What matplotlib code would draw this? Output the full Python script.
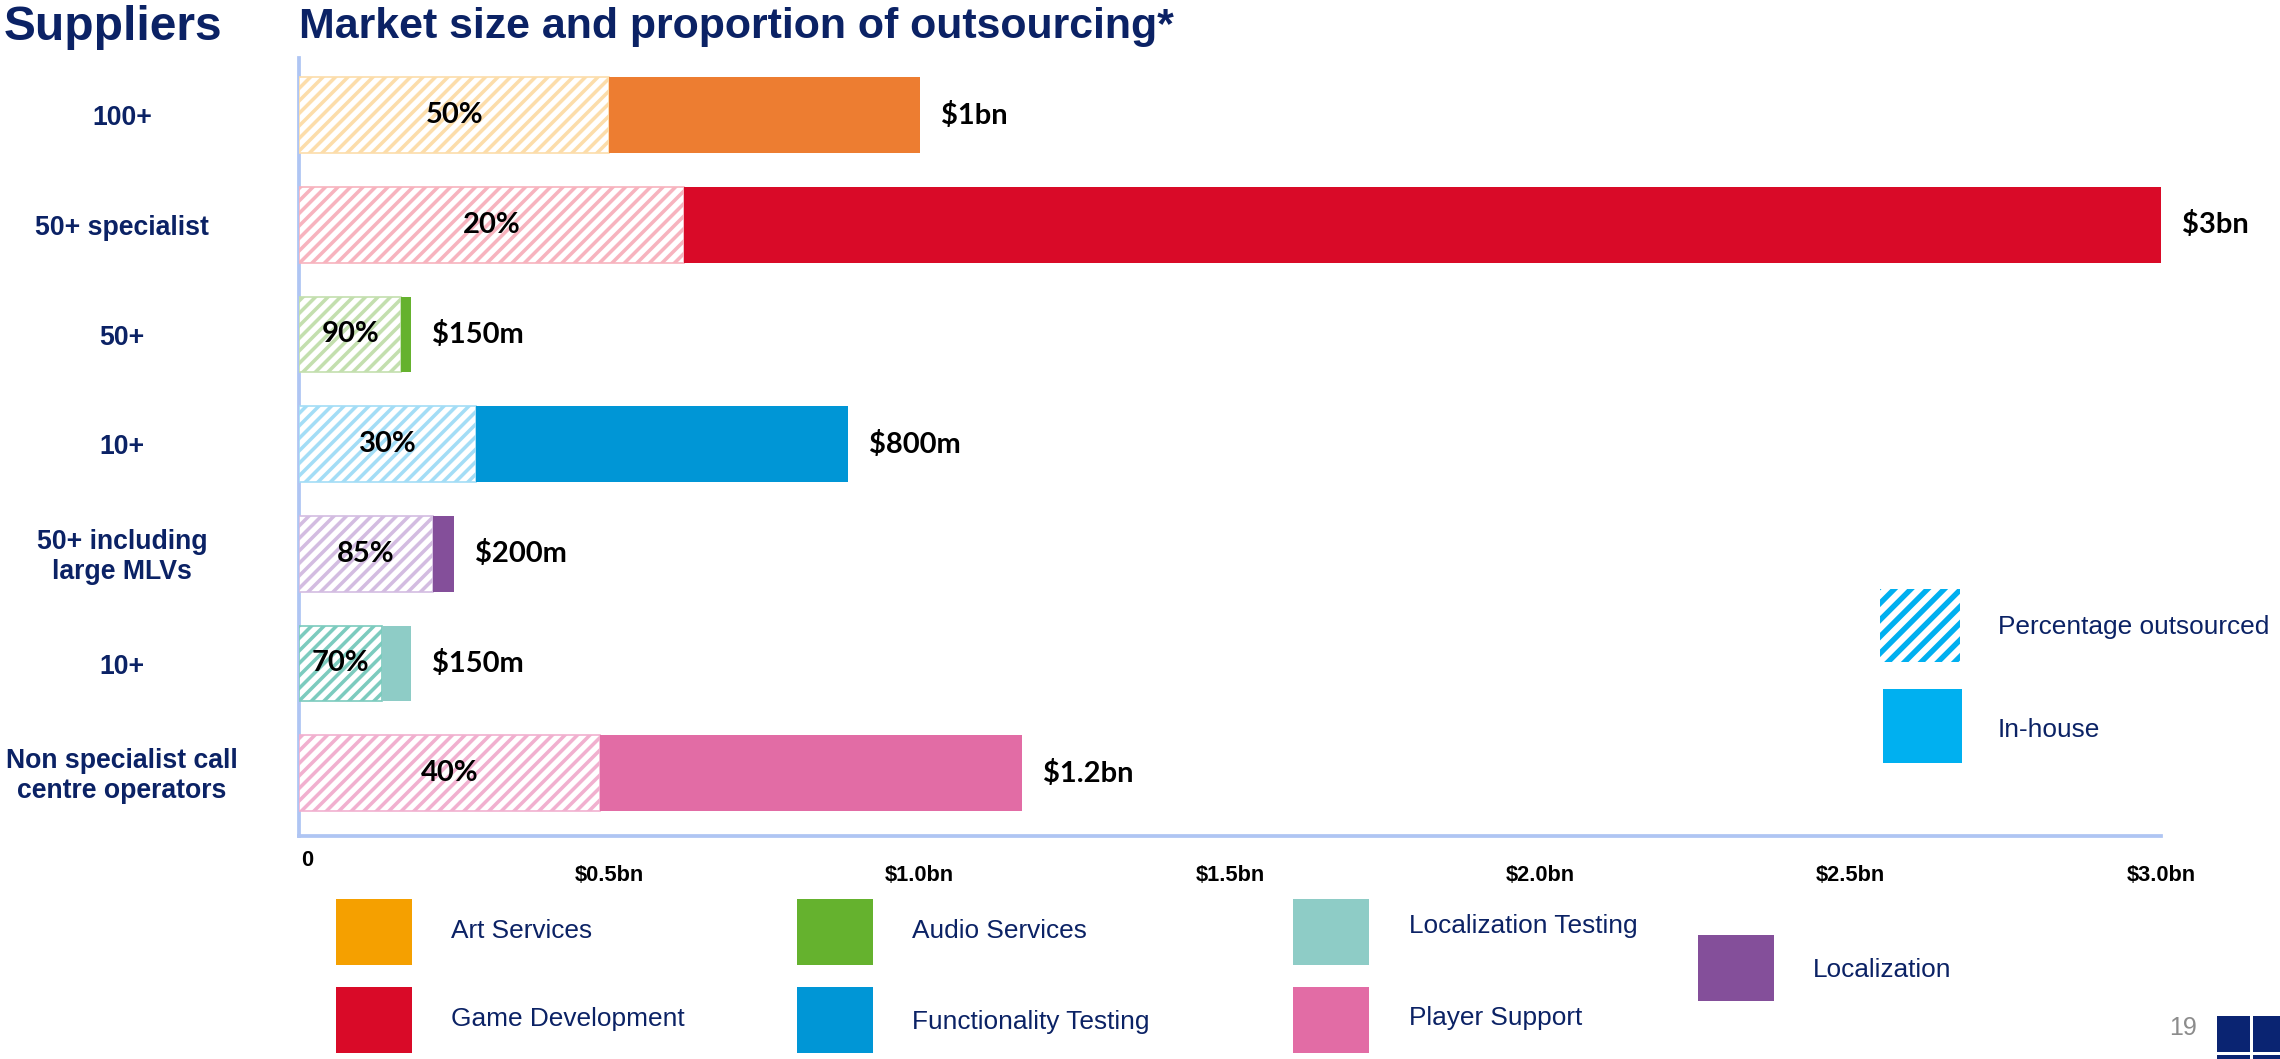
import matplotlib
matplotlib.use("Agg")
import matplotlib.pyplot as plt
import matplotlib.transforms as mtrans
from matplotlib.patches import Rectangle

# ---------------- data ----------------
suppliers = ["100+", "50+ specialist", "50+", "10+", "50+ including\nlarge MLVs",
             "10+", "Non specialist call\ncentre operators"]
market_total_bn = [1.0, 3.0, 0.18, 0.885, 0.25, 0.18, 1.165]
outsourced_bn = [0.50, 0.62, 0.165, 0.285, 0.216, 0.134, 0.485]
share_labels = ["50%", "20%", "90%", "30%", "85%", "70%", "40%"]
size_labels = ["$1bn", "$3bn", "$150m", "$800m", "$200m", "$150m", "$1.2bn"]
solid_colors = ["#ED7D31", "#D90A28", "#65B22E", "#0096D6", "#844F9A", "#8ECCC6", "#E26CA5"]
hatch_colors = ["#FCDDAA", "#F7B3BE", "#C3DFAE", "#A3DDF6", "#D3BCE1", "#7CCBBE", "#F1B0CF"]
x_ticks = [0.5, 1.0, 1.5, 2.0, 2.5, 3.0]
x_tick_labels = ["$0.5bn", "$1.0bn", "$1.5bn", "$2.0bn", "$2.5bn", "$3.0bn"]
service_names = ["Art Services", "Game Development", "Audio Services", "Functionality Testing",
                 "Localization Testing", "Player Support", "Localization"]
service_colors = ["#F5A000", "#D90A28", "#65B22E", "#0096D6", "#8ECCC6", "#E26CA5", "#844F9A"]

NAVY = "#0B2265"
plt.rcParams["font.family"] = ["Liberation Sans", "DejaVu Sans"]
plt.rcParams["hatch.linewidth"] = 1.7

W, H, DPI = 2280, 1059, 150
fig = plt.figure(figsize=(W / DPI, H / DPI), dpi=DPI)


def fx(px):
    return px / W


def fy(py):
    return 1 - py / H


ax = fig.add_axes([fx(299), fy(836), fx(2161) - fx(299), fy(58) - fy(836)])

ypos = list(range(len(suppliers)))
inhouse_bn = [t - o for t, o in zip(market_total_bn, outsourced_bn)]

ax.barh(ypos, outsourced_bn, height=0.69, color="white", edgecolor=hatch_colors,
        hatch="////", linewidth=0.8, zorder=3)
ax.barh(ypos, inhouse_bn, left=outsourced_bn, height=0.69, color=solid_colors,
        linewidth=0, zorder=3)

for i in ypos:
    ax.text(outsourced_bn[i] / 2, i, share_labels[i], ha="center", va="center",
            fontsize=14, fontweight="bold", family=["Lato", "DejaVu Sans"],
            color="black", zorder=5)
    ax.annotate(size_labels[i], xy=(market_total_bn[i], i), xytext=(10, 0),
                textcoords="offset points", ha="left", va="center", fontsize=14,
                fontweight="bold", family=["Lato", "DejaVu Sans"], color="black",
                annotation_clip=False)

ax.set_xlim(0, 3.0)
ax.set_ylim(6.574, -0.52)
for s in ("top", "right"):
    ax.spines[s].set_visible(False)
for s in ("left", "bottom"):
    ax.spines[s].set_color("#AFC5F3")
    ax.spines[s].set_linewidth(1.8)
ax.set_yticks([])
ax.set_xticks(x_ticks, x_tick_labels)
ax.tick_params(axis="x", length=0, pad=14, labelsize=10.5)
for lbl in ax.get_xticklabels():
    lbl.set_fontweight("bold")
ax.text(0.004, fy(861), "0", transform=mtrans.blended_transform_factory(ax.transData, fig.transFigure),
        ha="left", va="center", fontsize=10.5, fontweight="bold")

# supplier labels
ytrans = mtrans.blended_transform_factory(fig.transFigure, ax.transData)
for i, s in enumerate(suppliers):
    fig.text(fx(122), i + 0.03, s, transform=ytrans, ha="center", va="center", fontsize=12.8,
             fontweight="bold", color=NAVY, linespacing=1.2)

# titles
fig.text(fx(4), fy(27), "Suppliers", ha="left", va="center", fontsize=23,
         fontweight="bold", color=NAVY)
fig.text(fx(299), fy(27), "Market size and proportion of outsourcing*", ha="left",
         va="center", fontsize=20.6, fontweight="bold", color=NAVY)


def rect(x0, y0, x1, y1, **kw):
    r = Rectangle((fx(x0), fy(y1)), fx(x1) - fx(x0), fy(y0) - fy(y1),
                  transform=fig.transFigure, **kw)
    fig.add_artist(r)
    return r


# right legend
hl = rect(1880, 589, 1960, 662, facecolor="white", edgecolor="#00B0F0", hatch="///", linewidth=0)
if hasattr(hl, "set_hatch_linewidth"):
    hl.set_hatch_linewidth(2.6)
rect(1883, 689, 1962, 763, facecolor="#00B0F0", edgecolor="none")
fig.text(fx(1998), fy(627), "Percentage outsourced", ha="left", va="center",
         fontsize=12.6, color=NAVY)
fig.text(fx(1998), fy(730), "In-house", ha="left", va="center", fontsize=12.6, color=NAVY)

# bottom legend (layout)
leg_sq = [(336, 899), (336, 987), (797, 899), (797, 987), (1293, 899), (1293, 987), (1698, 935)]
leg_tx = [(451, 931), (451, 1019), (912, 931), (912, 1022), (1409, 926), (1409, 1018), (1813, 970)]
for name, col, (sx, sy), (tx, ty) in zip(service_names, service_colors, leg_sq, leg_tx):
    rect(sx, sy, sx + 76, sy + 66, facecolor=col, edgecolor="none")
    fig.text(fx(tx), fy(ty), name, ha="left", va="center", fontsize=12.6, color=NAVY)

# page number and logo
fig.text(fx(2183), fy(1028), "19", ha="center", va="center", fontsize=12, color="#8C8C8C")
for (a, b, c, d) in [(2217, 1016, 2250, 1052), (2253, 1016, 2280, 1052),
                     (2217, 1055, 2250, 1059), (2253, 1055, 2280, 1059)]:
    rect(a, b, c, d, facecolor="#0A2472", edgecolor="none")

fig.savefig("out.png", dpi=DPI)
